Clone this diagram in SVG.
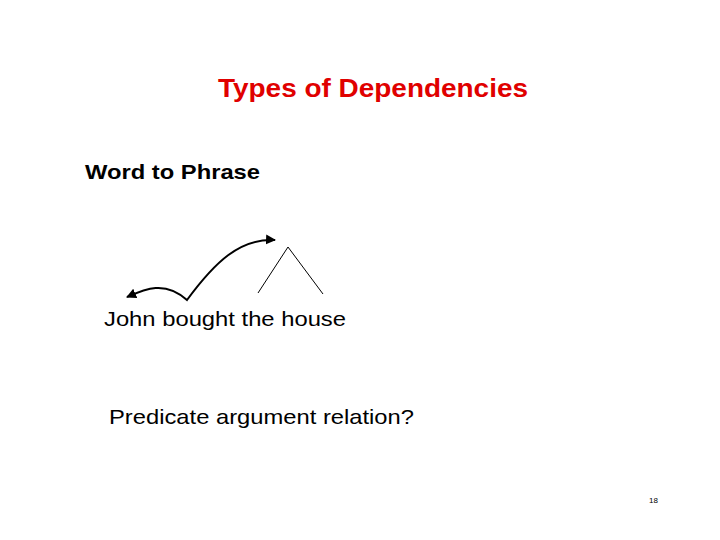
<svg xmlns="http://www.w3.org/2000/svg" width="720" height="540" viewBox="0 0 720 540">
<defs>
<style>
.t{font-family:"Liberation Sans",Arial,sans-serif;fill:#000}
.title{font-weight:bold;fill:#e00000}
.b{font-weight:bold}
.arc{fill:none;stroke:#000;stroke-width:2}
.tri{fill:none;stroke:#000;stroke-width:1}
</style>
<marker id="ah" viewBox="0 0 10 10" refX="9" refY="5" markerWidth="5" markerHeight="5" orient="auto-start-reverse" markerUnits="strokeWidth">
<path d="M0,0 L10,5 L0,10 z" fill="#000"/>
</marker>
</defs>
<rect width="720" height="540" fill="#fff"/>
<g id="title"><text class="t title" x="218" y="97" font-size="25" textLength="310" lengthAdjust="spacingAndGlyphs">Types of Dependencies</text></g>
<g id="heading"><text class="t b" x="85" y="179" font-size="21" textLength="175" lengthAdjust="spacingAndGlyphs">Word to Phrase</text></g>
<g id="sentence"><text class="t" x="104" y="326" font-size="21" textLength="242" lengthAdjust="spacingAndGlyphs">John bought the house</text></g>
<g id="question"><text class="t" x="109" y="424" font-size="21" textLength="305" lengthAdjust="spacingAndGlyphs">Predicate argument relation?</text></g>
<g id="page"><text class="t" x="649" y="503" font-size="8">18</text></g>
<g id="connectors">
<path class="arc" d="M127 297 C145 289,165 280,187 300 C215 262,240 238,275 240" marker-start="url(#ah)" marker-end="url(#ah)"/>
<path class="tri" d="M258 293 L288 247 L323 294"/>
</g>
</svg>
